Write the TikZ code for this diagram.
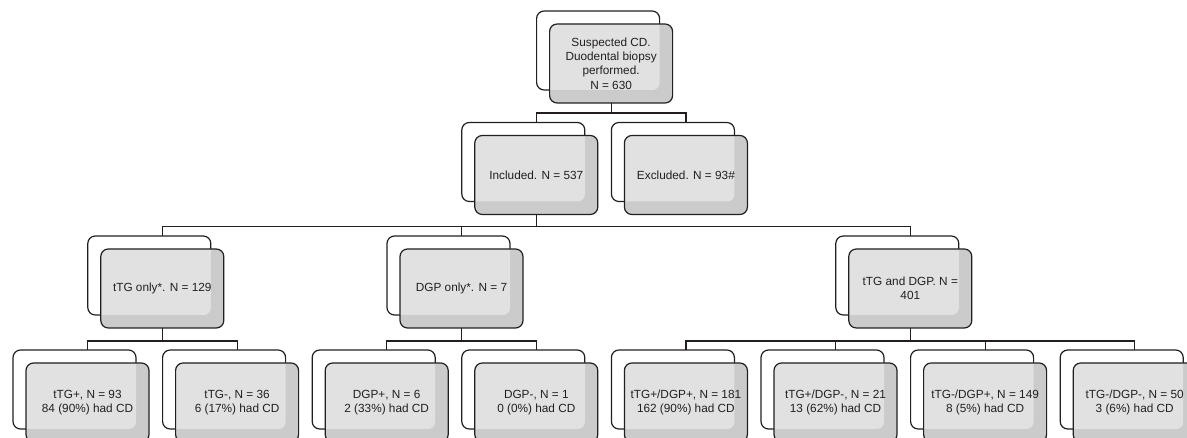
\documentclass[tikz,border=0pt]{standalone}
\definecolor{boxDark}{RGB}{203,203,203}
\definecolor{boxLight}{RGB}{225,225,226}
\definecolor{inkGray}{RGB}{35,31,32}
\usepackage{fontspec}
\setsansfont{Liberation Sans}
\usepackage{tikz}
\usetikzlibrary{positioning,calc}

\tikzset{
  backbox/.style={draw=inkGray, fill=white, line width=1.2pt, rounded corners=7.5pt,
    minimum width=123pt, minimum height=79pt, inner sep=0pt, outer sep=0pt},
  frontbox/.style={draw=inkGray, fill=boxDark, line width=1.2pt, rounded corners=7.5pt,
    minimum width=123pt, minimum height=79pt, inner sep=2pt, outer sep=0pt,
    align=center, text=inkGray, font=\sffamily\fontsize{11.8}{14.3}\selectfont,
    path picture={\fill[boxLight, rounded corners=7pt] (#1.south west) rectangle (#1.north east);}},
  link/.style={draw=inkGray, line width=1.2pt}
}

\begin{document}
\begin{tikzpicture}[x=1pt, y=1pt]
  \path[use as bounding box] (0,0) rectangle (1187,-438);
  \clip (0,0) rectangle (1187,-438);

  % level 1
  \node[backbox] (topB) at (598.1,-50.5) {};
  \node[frontbox=topB] (top) at ([shift={(13,-13)}]topB.center)
    {Suspected CD.\\Duodental biopsy\\performed.\\N = 630};

  % level 2
  \node[backbox] (incB) at (523.3,-162) {};
  \node[frontbox=incB] (inc) at ([shift={(13,-13)}]incB.center) {Included. N = 537};

  \node[backbox] (excB) at (672.9,-162) {};
  \node[frontbox=excB] (exc) at ([shift={(13,-13)}]excB.center) {Excluded. N = 93\#};

  % level 3
  \node[backbox] (ttgB) at (149.3,-275.5) {};
  \node[frontbox=ttgB] (ttg) at ([shift={(13,-13)}]ttgB.center) {tTG only*. N = 129};

  \node[backbox] (dgpB) at (448.5,-275.5) {};
  \node[frontbox=dgpB] (dgp) at ([shift={(13,-13)}]dgpB.center) {DGP only*. N = 7};

  \node[backbox] (bothB) at (897.3,-275.5) {};
  \node[frontbox=bothB] (both) at ([shift={(13,-13)}]bothB.center) {tTG and DGP. N =\\401};

  % level 4
  \node[backbox] (tpB) at (74.5,-389.5) {};
  \node[frontbox=tpB] (tp) at ([shift={(13,-13)}]tpB.center) {tTG+, N = 93\\84 (90\%) had CD};

  \node[backbox] (tnB) at (224.1,-389.5) {};
  \node[frontbox=tnB] (tn) at ([shift={(13,-13)}]tnB.center) {tTG-, N = 36\\6 (17\%) had CD};

  \node[backbox] (dpB) at (373.7,-389.5) {};
  \node[frontbox=dpB] (dp) at ([shift={(13,-13)}]dpB.center) {DGP+, N = 6\\2 (33\%) had CD};

  \node[backbox] (dnB) at (523.3,-389.5) {};
  \node[frontbox=dnB] (dn) at ([shift={(13,-13)}]dnB.center) {DGP-, N = 1\\0 (0\%) had CD};

  \node[backbox] (ppB) at (672.9,-389.5) {};
  \node[frontbox=ppB] (pp) at ([shift={(13,-13)}]ppB.center) {tTG+/DGP+, N = 181\\162 (90\%) had CD};

  \node[backbox] (pnB) at (822.5,-389.5) {};
  \node[frontbox=pnB] (pn) at ([shift={(13,-13)}]pnB.center) {tTG+/DGP-, N = 21\\13 (62\%) had CD};

  \node[backbox] (npB) at (972.1,-389.5) {};
  \node[frontbox=npB] (np) at ([shift={(13,-13)}]npB.center) {tTG-/DGP+, N = 149\\8 (5\%) had CD};

  \node[backbox] (nnB) at (1121.7,-389.5) {};
  \node[frontbox=nnB] (nn) at ([shift={(13,-13)}]nnB.center) {tTG-/DGP-, N = 50\\3 (6\%) had CD};

  % connectors
  \draw[link] (top.south) -- ++(0,-10) -| (incB.north -| inc);
  \draw[link] (top.south) -- ++(0,-10) -| (excB.north -| exc);

  \draw[link] (inc.south) -- ++(0,-12) -| (ttgB.north -| ttg);
  \draw[link] (inc.south) -- ++(0,-12) -| (dgpB.north -| dgp);
  \draw[link] (inc.south) -- ++(0,-12) -| (bothB.north -| both);

  \draw[link] (ttg.south) -- ++(0,-13) -| (tpB.north -| tp);
  \draw[link] (ttg.south) -- ++(0,-13) -| (tnB.north -| tn);
  \draw[link] (dgp.south) -- ++(0,-13) -| (dpB.north -| dp);
  \draw[link] (dgp.south) -- ++(0,-13) -| (dnB.north -| dn);
  \draw[link] (both.south) -- ++(0,-13) -| (ppB.north -| pp);
  \draw[link] (both.south) -- ++(0,-13) -| (pnB.north -| pn);
  \draw[link] (both.south) -- ++(0,-13) -| (npB.north -| np);
  \draw[link] (both.south) -- ++(0,-13) -| (nnB.north -| nn);
\end{tikzpicture}
\end{document}
